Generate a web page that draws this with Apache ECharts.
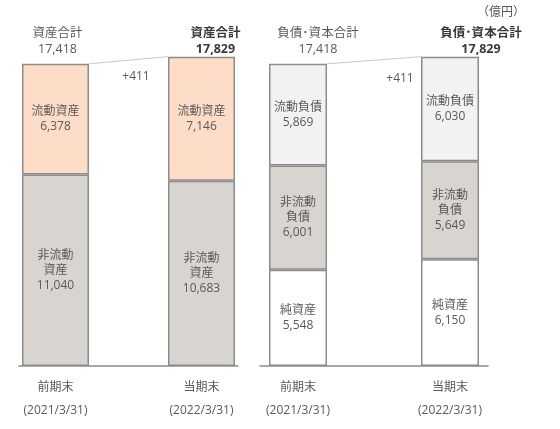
<!DOCTYPE html>
<html>
<head>
<meta charset="utf-8">
<script src="https://cdn.jsdelivr.net/npm/echarts@6/dist/echarts.min.js"></script>
<style>
  html, body { margin: 0; padding: 0; background: #fff; }
  #main { width: 560px; height: 429px; }
</style>
</head>
<body>
<div id="main"></div>
<script>
// ---- data (億円) ----
var periods = ['前期末', '', '当期末'];
var dates = ['(2021/3/31)', '', '(2022/3/31)'];

var assetsNonCurrent = [11040, 10683];
var assetsCurrent = [6378, 7146];
var liabNonCurrent = [6001, 5649];
var liabCurrent = [5869, 6030];
var netAssets = [5548, 6150];
var totals = [17418, 17829];

var assetTitle = '資産合計';
var liabTitle = '負債･資本合計';
var unitLabel = '（億円）';

var FONT = '"Open Sans", "Noto Sans CJK JP", sans-serif';
var TXT = '#595959';
var BORDER = '#8c8c8c';

function fmt(v) { return v.toLocaleString('en-US'); }
function onCats(arr) { return [arr[0], '-', arr[1]]; }

function seg(name, labelName, values, grid, color, barW) {
  return {
    name: name,
    type: 'bar',
    stack: 'g' + grid,
    xAxisIndex: grid,
    yAxisIndex: grid,
    barWidth: barW,
    data: onCats(values),
    itemStyle: { color: color, borderColor: BORDER, borderWidth: 1.5 },
    label: {
      show: true,
      position: 'inside',
      color: TXT,
      fontFamily: FONT,
      fontSize: 12,
      lineHeight: 15,
      formatter: function (p) { return labelName + '\n' + fmt(p.value); }
    },
    emphasis: { disabled: true }
  };
}

function xAxisFor(grid) {
  return {
    type: 'category',
    gridIndex: grid,
    data: periods,
    axisTick: { show: false },
    axisLine: { lineStyle: { color: BORDER, width: 1.5 } },
    axisLabel: {
      interval: 0,
      margin: 10,
      color: TXT,
      fontFamily: FONT,
      fontSize: 12,
      lineHeight: 23,
      formatter: function (v, i) { return v ? v + '\n' + dates[i] : ''; }
    }
  };
}

function yAxisFor(grid) {
  return { type: 'value', gridIndex: grid, min: 0, max: 20000, show: false, splitLine: { show: false } };
}

var chart = echarts.init(document.getElementById('main'));
chart.setOption({
  animation: false,
  grid: [
    { left: 19, width: 219, top: 19, bottom: 63 },
    { left: 260, width: 228, top: 19, bottom: 63 }
  ],
  xAxis: [xAxisFor(0), xAxisFor(1)],
  yAxis: [yAxisFor(0), yAxisFor(1)],
  series: [
    seg('非流動資産', '非流動\n資産', assetsNonCurrent, 0, '#d8d4cf', 67),
    seg('流動資産', '流動資産', assetsCurrent, 0, '#fddcc8', 67),
    seg('純資産', '純資産', netAssets, 1, '#ffffff', 58),
    seg('非流動負債', '非流動\n負債', liabNonCurrent, 1, '#d8d4cf', 58),
    seg('流動負債', '流動負債', liabCurrent, 1, '#f2f2f2', 58)
  ]
});

// ---- totals, connectors, difference ----
function px(grid, cat, val) {
  return chart.convertToPixel({ gridIndex: grid }, [cat, val]);
}

var graphics = [];
function panel(grid, title, barW, offs, diffPos) {
  var a = px(grid, 0, totals[0]);
  var b = px(grid, 2, totals[1]);
  graphics.push({
    type: 'line', silent: true,
    shape: { x1: a[0] + barW / 2, y1: a[1], x2: b[0] - barW / 2, y2: b[1] },
    style: { stroke: '#c8c8c8', lineWidth: 1 }
  });
  [[a, totals[0], false, offs[0]], [b, totals[1], true, offs[1]]].forEach(function (t) {
    graphics.push({
      type: 'text', silent: true, x: t[0][0] + t[3], y: 41,
      style: {
        text: title + '\n' + fmt(t[1]),
        align: 'center', verticalAlign: 'middle',
        fill: t[2] ? '#3a3a3a' : TXT,
        font: (t[2] ? 'bold ' : '') + '12.5px ' + FONT,
        lineHeight: 16
      }
    });
  });
  graphics.push({
    type: 'text', silent: true, x: diffPos[0], y: diffPos[1],
    style: {
      text: '+' + fmt(totals[1] - totals[0]),
      align: 'center', verticalAlign: 'middle',
      fill: TXT, font: '12px ' + FONT
    }
  });
}
panel(0, assetTitle, 67, [2, 14], [136, 77]);
panel(1, liabTitle, 58, [20, 31], [400, 79]);

graphics.push({
  type: 'text', silent: true, x: 501, y: 13,
  style: { text: unitLabel, align: 'center', verticalAlign: 'middle', fill: TXT, font: '12px ' + FONT }
});

chart.setOption({ graphic: graphics });
</script>
</body>
</html>
